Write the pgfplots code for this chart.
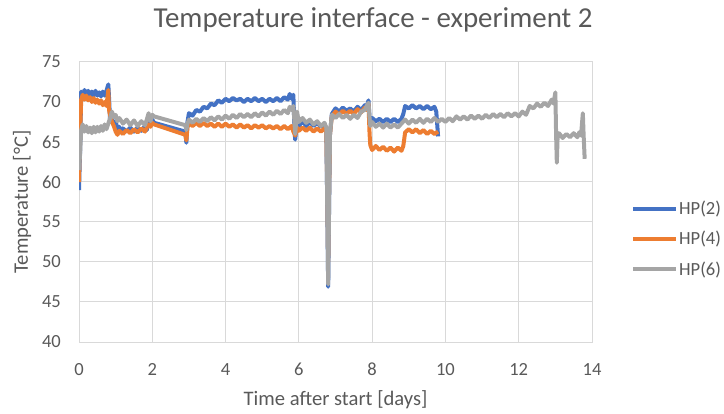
\documentclass[border=0pt]{standalone}
\usepackage{pgfplots}
\pgfplotsset{compat=1.18}
\usepackage{fontspec}
\setmainfont{Carlito}

\definecolor{hptwo}{HTML}{4472C4}
\definecolor{hpfour}{HTML}{ED7D31}
\definecolor{hpsix}{HTML}{A5A5A5}
\definecolor{txt}{HTML}{595959}
\definecolor{gridc}{HTML}{D9D9D9}

% HP(2)
\pgfplotstableread{
x y
0 59.0
0.03 64.0
0.06 71.3
0.1 70.8
0.15 71.5
0.2 70.9
0.25 71.4
0.3 70.7
0.35 71.3
0.4 70.8
0.45 71.4
0.5 70.8
0.55 71.2
0.6 70.7
0.65 71.3
0.7 70.8
0.75 71.4
0.8 72.2
0.82 70.5
0.85 67.5
0.9 67.9
0.95 67.2
1.0 67.6
1.05 66.6
1.1 66.9
1.15 66.2
1.2 66.7
1.3 66.3
1.4 66.8
1.5 66.3
1.6 66.8
1.7 66.4
1.8 67.0
1.85 66.5
1.9 67.6
1.95 67.2
2.0 67.8
2.05 67.4
2.9 66.3
2.93 64.9
2.96 67.5
3.0 68.6
3.1 68.3
3.2 69.0
3.3 68.8
3.4 69.4
3.5 69.2
3.6 69.8
3.7 69.6
3.8 70.2
3.9 69.9
4.0 70.4
4.1 70.1
4.2 70.5
4.3 70.2
4.4 70.4
4.5 70.0
4.6 70.4
4.7 70.1
4.8 70.5
4.9 70.1
5.0 70.4
5.1 70.0
5.2 70.4
5.3 70.1
5.4 70.5
5.5 70.1
5.6 70.6
5.7 70.3
5.75 71.0
5.8 70.4
5.85 70.9
5.88 66.5
5.9 65.3
5.95 67.5
6.0 67.0
6.1 67.6
6.2 67.0
6.3 67.5
6.4 67.0
6.5 67.4
6.6 66.9
6.7 67.3
6.75 66.5
6.78 55.0
6.8 46.9
6.82 55.0
6.85 66.0
6.9 68.5
7.0 69.2
7.1 68.8
7.2 69.3
7.3 68.9
7.4 69.2
7.5 68.8
7.6 69.4
7.7 69.0
7.8 69.6
7.85 69.4
7.9 70.2
7.93 68.0
7.95 67.6
8.0 68.0
8.1 67.6
8.2 67.9
8.3 67.5
8.4 67.9
8.5 67.5
8.6 67.9
8.7 67.5
8.8 67.9
8.85 68.5
8.9 69.5
9.0 69.2
9.1 69.6
9.2 69.2
9.3 69.5
9.4 69.1
9.5 69.5
9.6 69.1
9.7 69.4
9.75 68.8
9.8 65.7
}\hptwo

% HP(4)
\pgfplotstableread{
x y
0 60.0
0.03 66.0
0.06 70.3
0.1 70.9
0.15 70.3
0.2 70.8
0.25 70.2
0.3 70.6
0.35 70.0
0.4 70.5
0.45 69.9
0.5 70.3
0.55 69.8
0.6 70.2
0.65 69.6
0.7 70.0
0.75 69.5
0.8 71.5
0.82 69.0
0.85 68.3
0.9 67.5
0.95 67.0
1.0 66.3
1.05 65.9
1.1 66.4
1.2 66.0
1.3 66.5
1.4 66.1
1.5 66.6
1.6 66.2
1.7 66.7
1.8 66.3
1.85 66.8
1.9 67.2
1.95 66.9
2.0 67.4
2.05 67.2
2.9 65.9
2.93 65.2
2.96 66.8
3.0 67.4
3.1 67.0
3.2 67.4
3.3 67.0
3.4 67.4
3.5 67.0
3.6 67.3
3.7 66.9
3.8 67.3
3.9 66.9
4.0 67.3
4.1 66.9
4.2 67.2
4.3 66.8
4.4 67.2
4.5 66.8
4.6 67.1
4.7 66.7
4.8 67.1
4.9 66.8
5.0 67.1
5.1 66.7
5.2 67.0
5.3 66.7
5.4 67.0
5.5 66.6
5.6 67.0
5.7 66.6
5.8 67.0
5.85 66.3
5.9 65.8
5.95 66.8
6.0 66.4
6.1 66.8
6.2 66.4
6.3 66.8
6.4 66.3
6.5 66.7
6.6 66.3
6.7 66.7
6.75 66.2
6.78 58.0
6.8 50.0
6.82 58.0
6.85 66.0
6.9 68.2
7.0 68.8
7.1 68.4
7.2 68.9
7.3 68.5
7.4 68.9
7.5 68.5
7.6 69.1
7.7 68.7
7.8 69.3
7.85 69.0
7.9 69.8
7.93 66.0
7.95 64.6
8.0 64.0
8.1 64.5
8.2 64.0
8.3 64.4
8.4 63.9
8.5 64.3
8.6 63.8
8.7 64.3
8.8 63.9
8.85 64.5
8.9 66.2
9.0 66.6
9.1 66.2
9.2 66.6
9.3 66.1
9.4 66.5
9.5 66.0
9.6 66.4
9.7 66.0
9.8 66.3
}\hpfour

% HP(6)
\pgfplotstableread{
x y
0 61.5
0.03 63.5
0.06 66.5
0.1 67.2
0.15 66.3
0.2 67.0
0.25 66.2
0.3 66.8
0.35 66.1
0.4 66.9
0.45 66.2
0.5 66.9
0.55 66.3
0.6 67.0
0.65 66.4
0.7 67.2
0.75 66.6
0.8 67.3
0.85 68.0
0.9 68.8
0.95 68.1
1.0 68.4
1.05 67.6
1.1 68.0
1.2 67.3
1.3 67.8
1.4 67.1
1.5 67.7
1.6 67.0
1.7 67.6
1.8 67.1
1.85 67.8
1.9 68.6
1.95 67.6
2.0 68.4
2.05 68.2
2.9 67.1
2.93 66.5
2.96 67.3
3.0 67.8
3.1 67.4
3.2 67.9
3.3 67.5
3.4 68.0
3.5 67.6
3.6 68.1
3.7 67.7
3.8 68.2
3.9 67.8
4.0 68.3
4.1 67.9
4.2 68.4
4.3 68.0
4.4 68.5
4.5 68.1
4.6 68.5
4.7 68.1
4.8 68.6
4.9 68.2
5.0 68.7
5.1 68.3
5.2 68.8
5.3 68.4
5.4 68.9
5.5 68.5
5.6 69.0
5.7 68.6
5.75 69.4
5.8 69.0
5.85 69.5
5.88 67.5
5.9 66.0
5.95 68.8
6.0 67.5
6.1 68.0
6.2 67.4
6.3 67.8
6.4 67.2
6.5 67.6
6.6 67.0
6.7 67.4
6.75 66.8
6.78 55.0
6.8 47.2
6.82 55.0
6.85 66.0
6.9 68.4
7.0 68.0
7.1 68.5
7.2 68.0
7.3 68.4
7.4 67.9
7.5 68.4
7.6 68.0
7.7 68.8
7.8 69.0
7.85 69.5
7.9 69.9
7.93 68.0
7.95 67.0
8.0 67.5
8.1 66.9
8.2 67.3
8.3 66.8
8.4 67.3
8.5 66.8
8.6 67.2
8.7 66.8
8.8 67.3
8.9 67.8
9.0 67.3
9.1 67.8
9.2 67.4
9.3 67.9
9.4 67.4
9.5 67.9
9.6 67.5
9.7 68.0
9.8 67.5
9.9 67.9
10.0 67.5
10.1 68.0
10.2 67.6
10.3 68.2
10.4 67.8
10.5 68.2
10.6 67.8
10.7 68.3
10.8 67.9
10.9 68.3
11.0 67.9
11.1 68.4
11.2 68.0
11.3 68.5
11.4 68.1
11.5 68.5
11.6 68.1
11.7 68.6
11.8 68.2
11.9 68.6
12.0 68.2
12.1 68.8
12.2 68.4
12.3 69.5
12.4 69.2
12.5 69.8
12.6 69.4
12.7 69.9
12.8 69.5
12.9 70.3
12.95 69.8
13.0 71.2
13.02 66.0
13.04 62.4
13.06 65.5
13.1 66.1
13.2 65.5
13.3 66.0
13.4 65.6
13.5 66.1
13.6 65.6
13.65 66.2
13.7 65.8
13.75 68.6
13.77 66.0
13.8 62.9
}\hpsix

\begin{document}
\begin{tikzpicture}
\useasboundingbox (0,0) rectangle (724bp,414bp);
\node[text=txt, font=\fontsize{29}{34}\selectfont, anchor=base] at (373bp,386bp) {Temperature interface - experiment 2};
\begin{axis}[
    at={(79bp,72bp)},
    anchor=south west,
    scale only axis,
    width=513bp,
    height=280bp,
    xmin=0, xmax=14,
    ymin=40, ymax=75,
    xtick={0,2,...,14},
    ytick={40,45,...,75},
    grid=major,
    grid style={gridc, line width=1bp},
    axis line style={gridc, line width=1bp},
    major tick length=0pt,
    tick label style={text=txt, font=\fontsize{18.6}{22}\selectfont, inner sep=0pt},
    /pgf/number format/assume math mode=true,
    xticklabel style={anchor=north, yshift=-21bp},
    yticklabel style={anchor=east, xshift=-18bp},
    xlabel={Time after start [days]},
    ylabel={Temperature [°C]},
    label style={text=txt, font=\fontsize{20.7}{24}\selectfont},
    xlabel style={at={(axis description cs:0.5,-0.207)}, anchor=center},
    ylabel style={at={(axis description cs:-0.111,0.5)}, anchor=center},
    legend style={
        at={(axis description cs:1.077,0.368)},
        anchor=west,
        draw=none, fill=none,
        font=\fontsize{18.6}{22}\selectfont,
        text=txt,
        row sep=15bp,
        inner sep=0pt,
        nodes={inner xsep=1bp, inner ysep=0pt},
    },
    legend cell align=left,
    legend image code/.code={\draw[#1, line width=3.5bp] (0bp,0bp) -- (43bp,0bp);},
]
\addplot[hptwo, line width=4bp, line join=round] table[x=x, y=y] {\hptwo};
\addplot[hpfour, line width=4bp, line join=round] table[x=x, y=y] {\hpfour};
\addplot[hpsix, line width=4bp, line join=round] table[x=x, y=y] {\hpsix};
\legend{HP(2), HP(4), HP(6)}
\end{axis}
\end{tikzpicture}
\end{document}
